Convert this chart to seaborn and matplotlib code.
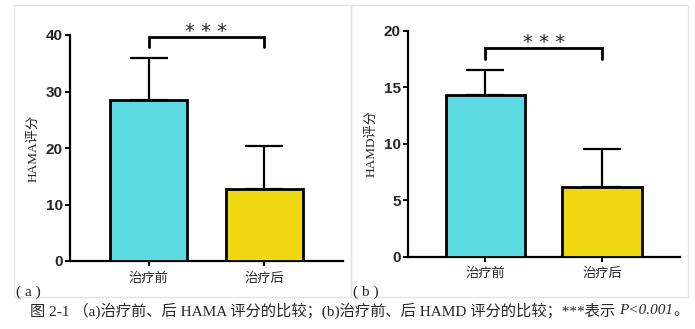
import matplotlib
matplotlib.use("Agg")
import matplotlib.pyplot as plt
from matplotlib.patches import Rectangle
import seaborn as sns
import pandas as pd

# Group labels and summary statistics (mean, SD)
groups = ["治疗前", "治疗后"]
hama_mean = [28.5, 12.7]
hama_sd = [7.4, 7.7]
hamd_mean = [14.3, 6.2]
hamd_sd = [2.2, 3.3]
hama_ticks = [0, 10, 20, 30, 40]
hamd_ticks = [0, 5, 10, 15, 20]

palette = ["#5DD9E1", "#EFD712"]
cjk = ["Noto Sans CJK SC", "DejaVu Sans"]
serif_cjk = ["Liberation Serif", "Noto Sans CJK SC"]

sns.set_theme(style="white")
plt.rcParams["font.family"] = cjk

W, H = 695, 329
fig = plt.figure(figsize=(W / 100, H / 100), dpi=100)
fig.patch.set_facecolor("white")


def px_axes(left, top, right, bottom):
    return fig.add_axes([left / W, 1 - bottom / H, (right - left) / W, (bottom - top) / H])


# light panel frames
for x0, x1 in [(14, 351), (351, 688)]:
    fig.patches.append(Rectangle((x0 / W, 1 - 297 / H), (x1 - x0) / W, (297 - 5) / H,
                                 transform=fig.transFigure, fill=False,
                                 edgecolor="#e4e4e4", linewidth=1.0))


def panel(ax, means, sds, ticks, ylabel, bar_w, xlim, brk_y, brk_leg, star_y):
    df = pd.DataFrame({"group": groups, "score": means})
    sns.barplot(data=df, x="group", y="score", hue="group", palette=palette,
                saturation=1, edgecolor="black", linewidth=2.0, width=bar_w,
                legend=False, errorbar=None, ax=ax, zorder=3)
    ax.errorbar(x=[0, 1], y=means, yerr=[[0, 0], sds], fmt="none", ecolor="black",
                elinewidth=1.6, capsize=14, capthick=1.6, zorder=2)
    ax.set_xlim(*xlim)
    ax.set_ylim(ticks[0], ticks[-1])
    ax.set_yticks(ticks)
    ax.set_yticklabels([str(t) for t in ticks], fontfamily="Liberation Sans",
                       fontweight="bold", fontsize=11)
    ax.set_xticks([0, 1])
    ax.set_xticklabels(groups, fontsize=9.5, fontfamily=cjk)
    ax.set_xlabel("")
    ax.set_ylabel(ylabel, fontsize=9.5, fontfamily=serif_cjk, labelpad=5)
    for s in ["top", "right"]:
        ax.spines[s].set_visible(False)
    for s in ["left", "bottom"]:
        ax.spines[s].set_linewidth(1.6)
        ax.spines[s].set_color("black")
    ax.tick_params(axis="both", which="both", direction="out", length=3.6, width=1.4,
                   color="black", bottom=True, left=True)
    ax.tick_params(axis="y", pad=1.5)
    ax.tick_params(axis="x", pad=4)
    ax.set_facecolor("white")
    # significance bracket
    ax.plot([0, 0, 1, 1], [brk_leg, brk_y, brk_y, brk_leg], color="black",
            linewidth=2.0, clip_on=False, solid_joinstyle="miter", zorder=4)
    ax.text(0.5, star_y, "* * *", ha="center", va="center", fontsize=14,
            fontfamily="DejaVu Sans", clip_on=False)


ax1 = px_axes(70, 35, 343, 261)
panel(ax1, hama_mean, hama_sd, hama_ticks, "HAMA评分", 0.664, (-0.677, 1.677),
      39.6, 37.8, 40.6)

ax2 = px_axes(408, 30.7, 680, 256.7)
panel(ax2, hamd_mean, hamd_sd, hamd_ticks, "HAMD评分", 0.68, (-0.665, 1.67),
      18.44, 17.47, 19.0)

fig.text(16 / W, 1 - 292 / H, "( a )", fontsize=11, fontfamily=serif_cjk, va="center", ha="left")
fig.text(353 / W, 1 - 292 / H, "( b )", fontsize=11, fontfamily=serif_cjk, va="center", ha="left")

cap = fig.text(30 / W, 1 - 311 / H,
               "图 2-1 （a)治疗前、后 HAMA 评分的比较；(b)治疗前、后 HAMD 评分的比较；***表示 ",
               fontsize=11, fontfamily=serif_cjk, va="center", ha="left")
pt = plt.annotate("P<0.001", xy=(1, 0.5), xycoords=cap, va="center", ha="left",
                  fontsize=11, fontfamily=serif_cjk, style="italic")
plt.annotate("。", xy=(1, 0.5), xycoords=pt, va="center", ha="left",
             fontsize=11, fontfamily=serif_cjk)

fig.savefig("out.png", dpi=100, facecolor="white")
